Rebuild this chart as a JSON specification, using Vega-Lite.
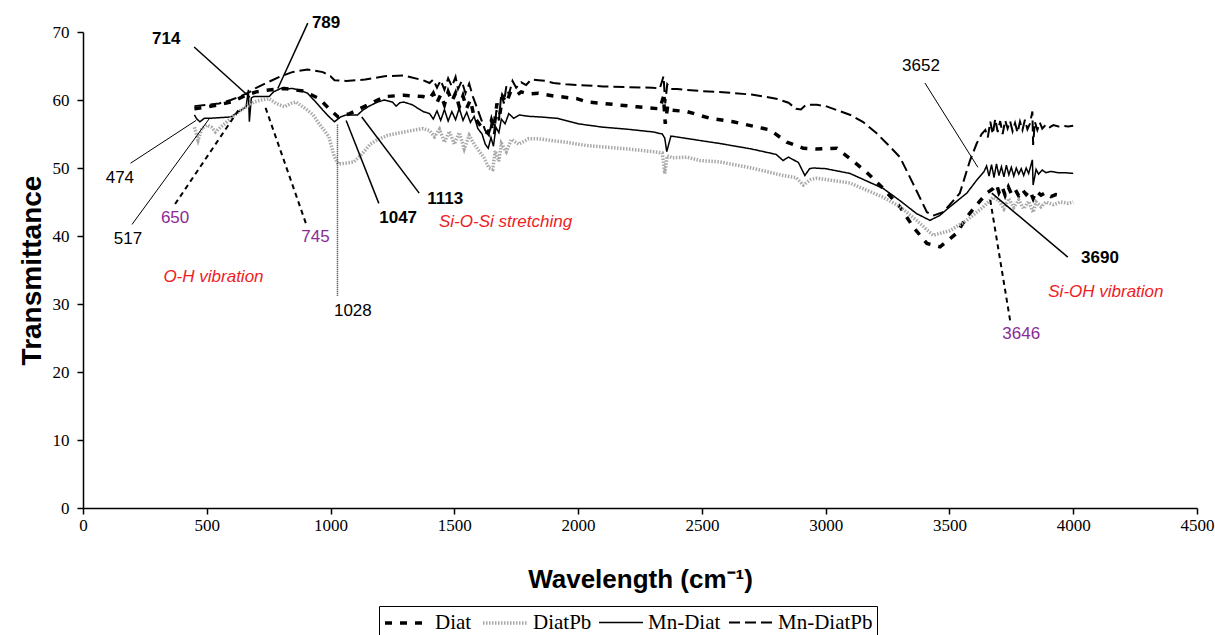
{
  "$schema": "https://vega.github.io/schema/vega-lite/v6.json",
  "width": 1114,
  "height": 476,
  "autosize": {"type": "none"},
  "padding": {"left": 83, "top": 32, "right": 18, "bottom": 127},
  "background": "white",
  "config": {
    "view": {"stroke": null},
    "axis": {
      "grid": false,
      "domainColor": "black",
      "domainWidth": 1.5,
      "tickColor": "black",
      "tickWidth": 1.5,
      "tickSize": 6,
      "labelFont": "Liberation Serif",
      "labelFontSize": 17,
      "labelColor": "black",
      "titleFont": "Liberation Sans",
      "titleFontWeight": "bold",
      "titleColor": "black"
    },
    "legend": {
      "title": null,
      "strokeColor": "black",
      "padding": 4,
      "symbolType": "M-1,0H3",
      "symbolSize": 484,
      "labelFont": "Liberation Serif",
      "labelFontSize": 21,
      "labelColor": "black",
      "columnPadding": 4,
      "labelOffset": 26,
      "symbolOffset": 0
    }
  },
  "datasets": {
    "spectra": [
      {"series": "Mn-DiatPb", "x": 450, "y": 59.1}, {"series": "Mn-DiatPb", "x": 500, "y": 59.3}, {"series": "Mn-DiatPb", "x": 550, "y": 59.5}, {"series": "Mn-DiatPb", "x": 597, "y": 60.0}, {"series": "Mn-DiatPb", "x": 640, "y": 60.6}, {"series": "Mn-DiatPb", "x": 674, "y": 61.2}, {"series": "Mn-DiatPb", "x": 700, "y": 61.8}, {"series": "Mn-DiatPb", "x": 752, "y": 62.7}, {"series": "Mn-DiatPb", "x": 800, "y": 63.5}, {"series": "Mn-DiatPb", "x": 845, "y": 64.1}, {"series": "Mn-DiatPb", "x": 907, "y": 64.5}, {"series": "Mn-DiatPb", "x": 969, "y": 64.1}, {"series": "Mn-DiatPb", "x": 1000, "y": 63.5}, {"series": "Mn-DiatPb", "x": 1016, "y": 62.9}, {"series": "Mn-DiatPb", "x": 1063, "y": 62.8}, {"series": "Mn-DiatPb", "x": 1140, "y": 63.0}, {"series": "Mn-DiatPb", "x": 1218, "y": 63.5}, {"series": "Mn-DiatPb", "x": 1296, "y": 63.6}, {"series": "Mn-DiatPb", "x": 1374, "y": 62.9},
      {"series": "Mn-DiatPb", "x": 1400, "y": 62.5}, {"series": "Mn-DiatPb", "x": 1415, "y": 63.0}, {"series": "Mn-DiatPb", "x": 1430, "y": 61.8}, {"series": "Mn-DiatPb", "x": 1445, "y": 62.9}, {"series": "Mn-DiatPb", "x": 1460, "y": 61.5}, {"series": "Mn-DiatPb", "x": 1475, "y": 63.2}, {"series": "Mn-DiatPb", "x": 1490, "y": 62.0}, {"series": "Mn-DiatPb", "x": 1505, "y": 63.4}, {"series": "Mn-DiatPb", "x": 1515, "y": 61.6}, {"series": "Mn-DiatPb", "x": 1530, "y": 62.8}, {"series": "Mn-DiatPb", "x": 1545, "y": 61.0}, {"series": "Mn-DiatPb", "x": 1560, "y": 62.4}, {"series": "Mn-DiatPb", "x": 1575, "y": 60.5}, {"series": "Mn-DiatPb", "x": 1590, "y": 59.0}, {"series": "Mn-DiatPb", "x": 1610, "y": 57.0}, {"series": "Mn-DiatPb", "x": 1625, "y": 55.5}, {"series": "Mn-DiatPb", "x": 1640, "y": 54.8}, {"series": "Mn-DiatPb", "x": 1650, "y": 56.5}, {"series": "Mn-DiatPb", "x": 1660, "y": 55.0}, {"series": "Mn-DiatPb", "x": 1670, "y": 58.5}, {"series": "Mn-DiatPb", "x": 1680, "y": 57.0}, {"series": "Mn-DiatPb", "x": 1690, "y": 61.0}, {"series": "Mn-DiatPb", "x": 1700, "y": 59.5}, {"series": "Mn-DiatPb", "x": 1710, "y": 62.0}, {"series": "Mn-DiatPb", "x": 1720, "y": 60.8}, {"series": "Mn-DiatPb", "x": 1735, "y": 62.8}, {"series": "Mn-DiatPb", "x": 1750, "y": 61.8}, {"series": "Mn-DiatPb", "x": 1770, "y": 62.6}, {"series": "Mn-DiatPb", "x": 1790, "y": 62.2}, {"series": "Mn-DiatPb", "x": 1810, "y": 63.0}, {"series": "Mn-DiatPb", "x": 1840, "y": 62.9}, {"series": "Mn-DiatPb", "x": 1870, "y": 62.8}, {"series": "Mn-DiatPb", "x": 1900, "y": 62.5}, {"series": "Mn-DiatPb", "x": 1950, "y": 62.3}, {"series": "Mn-DiatPb", "x": 2000, "y": 62.2}, {"series": "Mn-DiatPb", "x": 2100, "y": 62.0}, {"series": "Mn-DiatPb", "x": 2200, "y": 61.9}, {"series": "Mn-DiatPb", "x": 2300, "y": 61.8}, {"series": "Mn-DiatPb", "x": 2330, "y": 61.7}, {"series": "Mn-DiatPb", "x": 2345, "y": 63.5}, {"series": "Mn-DiatPb", "x": 2352, "y": 59.5}, {"series": "Mn-DiatPb", "x": 2360, "y": 62.3}, {"series": "Mn-DiatPb", "x": 2375, "y": 61.6}, {"series": "Mn-DiatPb", "x": 2400, "y": 61.6}, {"series": "Mn-DiatPb", "x": 2500, "y": 61.3}, {"series": "Mn-DiatPb", "x": 2600, "y": 61.1}, {"series": "Mn-DiatPb", "x": 2700, "y": 60.8}, {"series": "Mn-DiatPb", "x": 2800, "y": 60.2}, {"series": "Mn-DiatPb", "x": 2850, "y": 59.6}, {"series": "Mn-DiatPb", "x": 2880, "y": 58.7}, {"series": "Mn-DiatPb", "x": 2900, "y": 58.6}, {"series": "Mn-DiatPb", "x": 2920, "y": 59.3}, {"series": "Mn-DiatPb", "x": 2964, "y": 59.3}, {"series": "Mn-DiatPb", "x": 3000, "y": 59.1}, {"series": "Mn-DiatPb", "x": 3100, "y": 57.8}, {"series": "Mn-DiatPb", "x": 3150, "y": 56.8}, {"series": "Mn-DiatPb", "x": 3206, "y": 55.1}, {"series": "Mn-DiatPb", "x": 3250, "y": 53.5}, {"series": "Mn-DiatPb", "x": 3300, "y": 51.6}, {"series": "Mn-DiatPb", "x": 3353, "y": 47.7}, {"series": "Mn-DiatPb", "x": 3409, "y": 43.5}, {"series": "Mn-DiatPb", "x": 3434, "y": 43.0}, {"series": "Mn-DiatPb", "x": 3474, "y": 43.5}, {"series": "Mn-DiatPb", "x": 3542, "y": 46.3}, {"series": "Mn-DiatPb", "x": 3583, "y": 51.1}, {"series": "Mn-DiatPb", "x": 3610, "y": 53.6}, {"series": "Mn-DiatPb", "x": 3630, "y": 55.0}, {"series": "Mn-DiatPb", "x": 3645, "y": 55.6}, {"series": "Mn-DiatPb", "x": 3655, "y": 54.5}, {"series": "Mn-DiatPb", "x": 3665, "y": 56.8}, {"series": "Mn-DiatPb", "x": 3675, "y": 55.0}, {"series": "Mn-DiatPb", "x": 3685, "y": 57.2}, {"series": "Mn-DiatPb", "x": 3695, "y": 55.3}, {"series": "Mn-DiatPb", "x": 3705, "y": 56.9}, {"series": "Mn-DiatPb", "x": 3715, "y": 55.0}, {"series": "Mn-DiatPb", "x": 3725, "y": 57.0}, {"series": "Mn-DiatPb", "x": 3735, "y": 55.8}, {"series": "Mn-DiatPb", "x": 3745, "y": 56.9}, {"series": "Mn-DiatPb", "x": 3755, "y": 55.4}, {"series": "Mn-DiatPb", "x": 3765, "y": 56.6}, {"series": "Mn-DiatPb", "x": 3775, "y": 55.2}, {"series": "Mn-DiatPb", "x": 3785, "y": 56.8}, {"series": "Mn-DiatPb", "x": 3795, "y": 55.6}, {"series": "Mn-DiatPb", "x": 3805, "y": 57.1}, {"series": "Mn-DiatPb", "x": 3815, "y": 55.7}, {"series": "Mn-DiatPb", "x": 3825, "y": 56.5}, {"series": "Mn-DiatPb", "x": 3835, "y": 58.3}, {"series": "Mn-DiatPb", "x": 3838, "y": 53.4}, {"series": "Mn-DiatPb", "x": 3845, "y": 56.8}, {"series": "Mn-DiatPb", "x": 3855, "y": 55.6}, {"series": "Mn-DiatPb", "x": 3865, "y": 56.7}, {"series": "Mn-DiatPb", "x": 3875, "y": 55.8}, {"series": "Mn-DiatPb", "x": 3890, "y": 56.4}, {"series": "Mn-DiatPb", "x": 3905, "y": 56.0}, {"series": "Mn-DiatPb", "x": 3920, "y": 56.3}, {"series": "Mn-DiatPb", "x": 3940, "y": 56.1}, {"series": "Mn-DiatPb", "x": 3960, "y": 56.2}, {"series": "Mn-DiatPb", "x": 3980, "y": 56.1}, {"series": "Mn-DiatPb", "x": 4000, "y": 56.2},

      {"series": "Diat", "x": 450, "y": 58.7}, {"series": "Diat", "x": 504, "y": 59.0}, {"series": "Diat", "x": 550, "y": 59.3}, {"series": "Diat", "x": 597, "y": 59.7}, {"series": "Diat", "x": 659, "y": 60.7}, {"series": "Diat", "x": 700, "y": 61.2}, {"series": "Diat", "x": 737, "y": 61.4}, {"series": "Diat", "x": 814, "y": 61.7}, {"series": "Diat", "x": 892, "y": 61.3}, {"series": "Diat", "x": 954, "y": 60.2}, {"series": "Diat", "x": 1000, "y": 58.5}, {"series": "Diat", "x": 1031, "y": 57.5}, {"series": "Diat", "x": 1078, "y": 58.0}, {"series": "Diat", "x": 1140, "y": 59.1}, {"series": "Diat", "x": 1218, "y": 60.5}, {"series": "Diat", "x": 1296, "y": 60.7}, {"series": "Diat", "x": 1374, "y": 60.5},
      {"series": "Diat", "x": 1400, "y": 60.2}, {"series": "Diat", "x": 1415, "y": 61.0}, {"series": "Diat", "x": 1430, "y": 59.6}, {"series": "Diat", "x": 1445, "y": 60.8}, {"series": "Diat", "x": 1460, "y": 59.3}, {"series": "Diat", "x": 1475, "y": 61.2}, {"series": "Diat", "x": 1490, "y": 59.8}, {"series": "Diat", "x": 1505, "y": 61.0}, {"series": "Diat", "x": 1520, "y": 59.0}, {"series": "Diat", "x": 1535, "y": 60.6}, {"series": "Diat", "x": 1550, "y": 58.8}, {"series": "Diat", "x": 1565, "y": 60.0}, {"series": "Diat", "x": 1580, "y": 57.5}, {"series": "Diat", "x": 1600, "y": 56.5}, {"series": "Diat", "x": 1620, "y": 55.5}, {"series": "Diat", "x": 1637, "y": 55.1}, {"series": "Diat", "x": 1650, "y": 57.0}, {"series": "Diat", "x": 1660, "y": 55.8}, {"series": "Diat", "x": 1672, "y": 59.5}, {"series": "Diat", "x": 1684, "y": 58.0}, {"series": "Diat", "x": 1695, "y": 60.5}, {"series": "Diat", "x": 1710, "y": 59.6}, {"series": "Diat", "x": 1725, "y": 61.0}, {"series": "Diat", "x": 1745, "y": 60.5}, {"series": "Diat", "x": 1770, "y": 61.2}, {"series": "Diat", "x": 1800, "y": 60.9}, {"series": "Diat", "x": 1840, "y": 61.0}, {"series": "Diat", "x": 1900, "y": 60.6}, {"series": "Diat", "x": 1995, "y": 60.2}, {"series": "Diat", "x": 2035, "y": 59.7}, {"series": "Diat", "x": 2101, "y": 59.5}, {"series": "Diat", "x": 2238, "y": 59.0}, {"series": "Diat", "x": 2330, "y": 58.7}, {"series": "Diat", "x": 2345, "y": 60.5}, {"series": "Diat", "x": 2352, "y": 56.5}, {"series": "Diat", "x": 2362, "y": 59.2}, {"series": "Diat", "x": 2380, "y": 58.5}, {"series": "Diat", "x": 2440, "y": 58.3}, {"series": "Diat", "x": 2533, "y": 57.3}, {"series": "Diat", "x": 2626, "y": 56.8}, {"series": "Diat", "x": 2775, "y": 55.6}, {"series": "Diat", "x": 2843, "y": 53.8}, {"series": "Diat", "x": 2910, "y": 52.9}, {"series": "Diat", "x": 2960, "y": 52.8}, {"series": "Diat", "x": 3045, "y": 52.9}, {"series": "Diat", "x": 3098, "y": 51.4}, {"series": "Diat", "x": 3165, "y": 49.4}, {"series": "Diat", "x": 3232, "y": 47.0}, {"series": "Diat", "x": 3300, "y": 44.3}, {"series": "Diat", "x": 3354, "y": 41.3}, {"series": "Diat", "x": 3409, "y": 38.9}, {"series": "Diat", "x": 3462, "y": 38.4}, {"series": "Diat", "x": 3529, "y": 40.4}, {"series": "Diat", "x": 3570, "y": 42.8}, {"series": "Diat", "x": 3620, "y": 45.0}, {"series": "Diat", "x": 3651, "y": 46.3}, {"series": "Diat", "x": 3677, "y": 47.0}, {"series": "Diat", "x": 3690, "y": 47.6}, {"series": "Diat", "x": 3700, "y": 46.4}, {"series": "Diat", "x": 3712, "y": 47.3}, {"series": "Diat", "x": 3725, "y": 46.0}, {"series": "Diat", "x": 3738, "y": 47.2}, {"series": "Diat", "x": 3750, "y": 46.2}, {"series": "Diat", "x": 3765, "y": 46.9}, {"series": "Diat", "x": 3780, "y": 45.9}, {"series": "Diat", "x": 3795, "y": 46.8}, {"series": "Diat", "x": 3810, "y": 46.1}, {"series": "Diat", "x": 3825, "y": 46.7}, {"series": "Diat", "x": 3838, "y": 45.5}, {"series": "Diat", "x": 3850, "y": 46.6}, {"series": "Diat", "x": 3870, "y": 46.0}, {"series": "Diat", "x": 3890, "y": 46.4}, {"series": "Diat", "x": 3910, "y": 45.8}, {"series": "Diat", "x": 3930, "y": 46.1}, {"series": "Diat", "x": 3955, "y": 46.0},

      {"series": "Mn-Diat", "x": 450, "y": 57.8}, {"series": "Mn-Diat", "x": 460, "y": 57.2}, {"series": "Mn-Diat", "x": 472, "y": 56.8}, {"series": "Mn-Diat", "x": 490, "y": 57.3}, {"series": "Mn-Diat", "x": 511, "y": 57.3}, {"series": "Mn-Diat", "x": 550, "y": 57.4}, {"series": "Mn-Diat", "x": 597, "y": 57.5}, {"series": "Mn-Diat", "x": 630, "y": 58.3}, {"series": "Mn-Diat", "x": 659, "y": 59.0}, {"series": "Mn-Diat", "x": 668, "y": 61.5}, {"series": "Mn-Diat", "x": 672, "y": 56.8}, {"series": "Mn-Diat", "x": 680, "y": 60.3}, {"series": "Mn-Diat", "x": 690, "y": 60.5}, {"series": "Mn-Diat", "x": 720, "y": 60.5}, {"series": "Mn-Diat", "x": 752, "y": 60.5}, {"series": "Mn-Diat", "x": 770, "y": 61.2}, {"series": "Mn-Diat", "x": 799, "y": 61.7}, {"series": "Mn-Diat", "x": 820, "y": 61.6}, {"series": "Mn-Diat", "x": 845, "y": 61.7}, {"series": "Mn-Diat", "x": 880, "y": 61.4}, {"series": "Mn-Diat", "x": 907, "y": 61.0}, {"series": "Mn-Diat", "x": 940, "y": 59.7}, {"series": "Mn-Diat", "x": 969, "y": 58.5}, {"series": "Mn-Diat", "x": 995, "y": 57.5}, {"series": "Mn-Diat", "x": 1016, "y": 56.8}, {"series": "Mn-Diat", "x": 1040, "y": 57.5}, {"series": "Mn-Diat", "x": 1063, "y": 57.8}, {"series": "Mn-Diat", "x": 1090, "y": 57.8}, {"series": "Mn-Diat", "x": 1109, "y": 57.8}, {"series": "Mn-Diat", "x": 1130, "y": 58.5}, {"series": "Mn-Diat", "x": 1156, "y": 59.1}, {"series": "Mn-Diat", "x": 1190, "y": 59.7}, {"series": "Mn-Diat", "x": 1218, "y": 60.0}, {"series": "Mn-Diat", "x": 1250, "y": 59.7}, {"series": "Mn-Diat", "x": 1265, "y": 59.1}, {"series": "Mn-Diat", "x": 1280, "y": 59.6}, {"series": "Mn-Diat", "x": 1296, "y": 59.7}, {"series": "Mn-Diat", "x": 1330, "y": 59.3}, {"series": "Mn-Diat", "x": 1374, "y": 58.3},
      {"series": "Mn-Diat", "x": 1400, "y": 58.0}, {"series": "Mn-Diat", "x": 1415, "y": 57.2}, {"series": "Mn-Diat", "x": 1430, "y": 58.4}, {"series": "Mn-Diat", "x": 1445, "y": 57.0}, {"series": "Mn-Diat", "x": 1460, "y": 58.6}, {"series": "Mn-Diat", "x": 1475, "y": 56.9}, {"series": "Mn-Diat", "x": 1490, "y": 58.3}, {"series": "Mn-Diat", "x": 1505, "y": 57.1}, {"series": "Mn-Diat", "x": 1520, "y": 58.8}, {"series": "Mn-Diat", "x": 1535, "y": 57.0}, {"series": "Mn-Diat", "x": 1550, "y": 58.2}, {"series": "Mn-Diat", "x": 1565, "y": 56.7}, {"series": "Mn-Diat", "x": 1580, "y": 57.6}, {"series": "Mn-Diat", "x": 1595, "y": 55.8}, {"series": "Mn-Diat", "x": 1612, "y": 55.0}, {"series": "Mn-Diat", "x": 1625, "y": 53.5}, {"series": "Mn-Diat", "x": 1637, "y": 52.9}, {"series": "Mn-Diat", "x": 1648, "y": 54.5}, {"series": "Mn-Diat", "x": 1658, "y": 53.2}, {"series": "Mn-Diat", "x": 1668, "y": 56.0}, {"series": "Mn-Diat", "x": 1680, "y": 55.2}, {"series": "Mn-Diat", "x": 1690, "y": 57.2}, {"series": "Mn-Diat", "x": 1705, "y": 56.5}, {"series": "Mn-Diat", "x": 1720, "y": 58.0}, {"series": "Mn-Diat", "x": 1740, "y": 57.3}, {"series": "Mn-Diat", "x": 1762, "y": 57.8}, {"series": "Mn-Diat", "x": 1800, "y": 57.6}, {"series": "Mn-Diat", "x": 1850, "y": 57.5}, {"series": "Mn-Diat", "x": 1917, "y": 57.3}, {"series": "Mn-Diat", "x": 2000, "y": 56.5}, {"series": "Mn-Diat", "x": 2101, "y": 56.0}, {"series": "Mn-Diat", "x": 2200, "y": 55.7}, {"series": "Mn-Diat", "x": 2303, "y": 55.3}, {"series": "Mn-Diat", "x": 2340, "y": 55.0}, {"series": "Mn-Diat", "x": 2350, "y": 54.4}, {"series": "Mn-Diat", "x": 2358, "y": 52.4}, {"series": "Mn-Diat", "x": 2366, "y": 53.5}, {"series": "Mn-Diat", "x": 2375, "y": 54.7}, {"series": "Mn-Diat", "x": 2411, "y": 54.5}, {"series": "Mn-Diat", "x": 2500, "y": 54.0}, {"series": "Mn-Diat", "x": 2573, "y": 53.6}, {"series": "Mn-Diat", "x": 2700, "y": 52.8}, {"series": "Mn-Diat", "x": 2800, "y": 52.0}, {"series": "Mn-Diat", "x": 2828, "y": 51.1}, {"series": "Mn-Diat", "x": 2850, "y": 51.6}, {"series": "Mn-Diat", "x": 2890, "y": 50.8}, {"series": "Mn-Diat", "x": 2916, "y": 48.9}, {"series": "Mn-Diat", "x": 2935, "y": 49.9}, {"series": "Mn-Diat", "x": 2950, "y": 50.0}, {"series": "Mn-Diat", "x": 3000, "y": 49.9}, {"series": "Mn-Diat", "x": 3098, "y": 49.2}, {"series": "Mn-Diat", "x": 3232, "y": 47.0}, {"series": "Mn-Diat", "x": 3300, "y": 45.2}, {"series": "Mn-Diat", "x": 3367, "y": 43.3}, {"series": "Mn-Diat", "x": 3421, "y": 42.3}, {"series": "Mn-Diat", "x": 3460, "y": 43.0}, {"series": "Mn-Diat", "x": 3502, "y": 44.3}, {"series": "Mn-Diat", "x": 3570, "y": 46.3}, {"series": "Mn-Diat", "x": 3610, "y": 48.2}, {"series": "Mn-Diat", "x": 3640, "y": 49.5}, {"series": "Mn-Diat", "x": 3650, "y": 50.3}, {"series": "Mn-Diat", "x": 3660, "y": 48.8}, {"series": "Mn-Diat", "x": 3670, "y": 50.5}, {"series": "Mn-Diat", "x": 3680, "y": 48.6}, {"series": "Mn-Diat", "x": 3690, "y": 50.6}, {"series": "Mn-Diat", "x": 3700, "y": 48.9}, {"series": "Mn-Diat", "x": 3710, "y": 50.2}, {"series": "Mn-Diat", "x": 3720, "y": 48.7}, {"series": "Mn-Diat", "x": 3730, "y": 50.4}, {"series": "Mn-Diat", "x": 3740, "y": 49.0}, {"series": "Mn-Diat", "x": 3750, "y": 50.1}, {"series": "Mn-Diat", "x": 3760, "y": 48.8}, {"series": "Mn-Diat", "x": 3770, "y": 50.0}, {"series": "Mn-Diat", "x": 3780, "y": 49.1}, {"series": "Mn-Diat", "x": 3790, "y": 49.9}, {"series": "Mn-Diat", "x": 3800, "y": 48.9}, {"series": "Mn-Diat", "x": 3810, "y": 50.0}, {"series": "Mn-Diat", "x": 3820, "y": 49.2}, {"series": "Mn-Diat", "x": 3835, "y": 51.2}, {"series": "Mn-Diat", "x": 3838, "y": 47.5}, {"series": "Mn-Diat", "x": 3850, "y": 49.8}, {"series": "Mn-Diat", "x": 3860, "y": 49.1}, {"series": "Mn-Diat", "x": 3875, "y": 49.7}, {"series": "Mn-Diat", "x": 3890, "y": 49.3}, {"series": "Mn-Diat", "x": 3910, "y": 49.5}, {"series": "Mn-Diat", "x": 3940, "y": 49.3}, {"series": "Mn-Diat", "x": 3970, "y": 49.3}, {"series": "Mn-Diat", "x": 4000, "y": 49.2},

      {"series": "DiatPb", "x": 450, "y": 56.0}, {"series": "DiatPb", "x": 465, "y": 54.1}, {"series": "DiatPb", "x": 480, "y": 55.8}, {"series": "DiatPb", "x": 500, "y": 56.3}, {"series": "DiatPb", "x": 519, "y": 56.0}, {"series": "DiatPb", "x": 535, "y": 55.3}, {"series": "DiatPb", "x": 550, "y": 55.8}, {"series": "DiatPb", "x": 597, "y": 57.3}, {"series": "DiatPb", "x": 630, "y": 58.3}, {"series": "DiatPb", "x": 659, "y": 59.0}, {"series": "DiatPb", "x": 690, "y": 59.7}, {"series": "DiatPb", "x": 721, "y": 60.0}, {"series": "DiatPb", "x": 752, "y": 60.2}, {"series": "DiatPb", "x": 780, "y": 59.5}, {"series": "DiatPb", "x": 814, "y": 59.0}, {"series": "DiatPb", "x": 840, "y": 59.5}, {"series": "DiatPb", "x": 861, "y": 59.7}, {"series": "DiatPb", "x": 880, "y": 59.2}, {"series": "DiatPb", "x": 907, "y": 58.5}, {"series": "DiatPb", "x": 930, "y": 57.8}, {"series": "DiatPb", "x": 954, "y": 56.5}, {"series": "DiatPb", "x": 975, "y": 55.5}, {"series": "DiatPb", "x": 993, "y": 54.6}, {"series": "DiatPb", "x": 1005, "y": 53.0}, {"series": "DiatPb", "x": 1016, "y": 51.6}, {"series": "DiatPb", "x": 1031, "y": 50.6}, {"series": "DiatPb", "x": 1060, "y": 50.7}, {"series": "DiatPb", "x": 1094, "y": 50.9}, {"series": "DiatPb", "x": 1120, "y": 51.8}, {"series": "DiatPb", "x": 1140, "y": 52.6}, {"series": "DiatPb", "x": 1160, "y": 53.5}, {"series": "DiatPb", "x": 1187, "y": 54.1}, {"series": "DiatPb", "x": 1230, "y": 54.8}, {"series": "DiatPb", "x": 1296, "y": 55.3}, {"series": "DiatPb", "x": 1374, "y": 55.8},
      {"series": "DiatPb", "x": 1400, "y": 55.5}, {"series": "DiatPb", "x": 1420, "y": 54.6}, {"series": "DiatPb", "x": 1440, "y": 55.7}, {"series": "DiatPb", "x": 1460, "y": 53.8}, {"series": "DiatPb", "x": 1480, "y": 55.4}, {"series": "DiatPb", "x": 1500, "y": 53.5}, {"series": "DiatPb", "x": 1520, "y": 55.2}, {"series": "DiatPb", "x": 1540, "y": 52.8}, {"series": "DiatPb", "x": 1560, "y": 54.8}, {"series": "DiatPb", "x": 1580, "y": 53.5}, {"series": "DiatPb", "x": 1600, "y": 52.5}, {"series": "DiatPb", "x": 1620, "y": 51.5}, {"series": "DiatPb", "x": 1640, "y": 50.0}, {"series": "DiatPb", "x": 1655, "y": 49.8}, {"series": "DiatPb", "x": 1665, "y": 52.5}, {"series": "DiatPb", "x": 1680, "y": 51.0}, {"series": "DiatPb", "x": 1690, "y": 53.6}, {"series": "DiatPb", "x": 1710, "y": 52.4}, {"series": "DiatPb", "x": 1730, "y": 54.2}, {"series": "DiatPb", "x": 1760, "y": 53.5}, {"series": "DiatPb", "x": 1800, "y": 54.3}, {"series": "DiatPb", "x": 1840, "y": 54.3}, {"series": "DiatPb", "x": 1900, "y": 54.0}, {"series": "DiatPb", "x": 1950, "y": 53.8}, {"series": "DiatPb", "x": 2035, "y": 53.3}, {"series": "DiatPb", "x": 2101, "y": 53.1}, {"series": "DiatPb", "x": 2200, "y": 52.8}, {"series": "DiatPb", "x": 2303, "y": 52.4}, {"series": "DiatPb", "x": 2340, "y": 52.2}, {"series": "DiatPb", "x": 2350, "y": 49.2}, {"series": "DiatPb", "x": 2360, "y": 51.8}, {"series": "DiatPb", "x": 2380, "y": 51.5}, {"series": "DiatPb", "x": 2440, "y": 51.6}, {"series": "DiatPb", "x": 2492, "y": 51.1}, {"series": "DiatPb", "x": 2573, "y": 50.9}, {"series": "DiatPb", "x": 2700, "y": 50.0}, {"series": "DiatPb", "x": 2828, "y": 48.9}, {"series": "DiatPb", "x": 2880, "y": 48.6}, {"series": "DiatPb", "x": 2910, "y": 47.5}, {"series": "DiatPb", "x": 2940, "y": 48.3}, {"series": "DiatPb", "x": 2964, "y": 48.5}, {"series": "DiatPb", "x": 3098, "y": 47.8}, {"series": "DiatPb", "x": 3232, "y": 45.7}, {"series": "DiatPb", "x": 3300, "y": 44.3}, {"series": "DiatPb", "x": 3367, "y": 42.3}, {"series": "DiatPb", "x": 3434, "y": 40.1}, {"series": "DiatPb", "x": 3502, "y": 40.8}, {"series": "DiatPb", "x": 3570, "y": 42.3}, {"series": "DiatPb", "x": 3637, "y": 44.3}, {"series": "DiatPb", "x": 3677, "y": 45.7}, {"series": "DiatPb", "x": 3700, "y": 45.2}, {"series": "DiatPb", "x": 3720, "y": 44.0}, {"series": "DiatPb", "x": 3740, "y": 45.5}, {"series": "DiatPb", "x": 3760, "y": 44.2}, {"series": "DiatPb", "x": 3780, "y": 45.3}, {"series": "DiatPb", "x": 3800, "y": 44.0}, {"series": "DiatPb", "x": 3820, "y": 45.1}, {"series": "DiatPb", "x": 3838, "y": 43.5}, {"series": "DiatPb", "x": 3850, "y": 45.0}, {"series": "DiatPb", "x": 3870, "y": 44.3}, {"series": "DiatPb", "x": 3890, "y": 45.0}, {"series": "DiatPb", "x": 3920, "y": 44.6}, {"series": "DiatPb", "x": 3950, "y": 45.0}, {"series": "DiatPb", "x": 3980, "y": 44.8}, {"series": "DiatPb", "x": 4000, "y": 45.0}
    ],
    "leadersSolid": [
      {"xa": 449, "ya": 67.8, "xb": 674, "yb": 60.4},
      {"xa": 908, "ya": 71.3, "xb": 787, "yb": 61.7},
      {"xa": 1195, "ya": 44.8, "xb": 1063, "yb": 57.0},
      {"xa": 1358, "ya": 46.3, "xb": 1126, "yb": 57.5},
      {"xa": 3978, "ya": 36.9, "xb": 3671, "yb": 46.3}
    ],
    "leadersThin": [
      {"xa": 192, "ya": 50.7, "xb": 457, "yb": 57.0},
      {"xa": 198, "ya": 41.7, "xb": 511, "yb": 57.3},
      {"xa": 3401, "ya": 62.5, "xb": 3615, "yb": 50.1}
    ],
    "leadersDashed": [
      {"xa": 372, "ya": 44.7, "xb": 628, "yb": 58.5},
      {"xa": 900, "ya": 41.9, "xb": 737, "yb": 58.9},
      {"xa": 3745, "ya": 27.6, "xb": 3663, "yb": 45.7}
    ],
    "leadersDotted": [
      {"xa": 1028, "ya": 31.2, "xb": 1028, "yb": 56.5}
    ],
    "labelsBold": [
      {"x": 336, "y": 69.0, "text": "714"},
      {"x": 982, "y": 71.3, "text": "789"},
      {"x": 1273, "y": 42.6, "text": "1047"},
      {"x": 1463, "y": 45.4, "text": "1113"},
      {"x": 4108, "y": 36.7, "text": "3690"}
    ],
    "labelsPlain": [
      {"x": 149, "y": 48.6, "text": "474"},
      {"x": 182, "y": 39.6, "text": "517"},
      {"x": 1090, "y": 28.9, "text": "1028"},
      {"x": 3385, "y": 65.0, "text": "3652"}
    ],
    "labelsPurple": [
      {"x": 372, "y": 42.7, "text": "650"},
      {"x": 939, "y": 39.8, "text": "745"},
      {"x": 3790, "y": 25.6, "text": "3646"}
    ],
    "labelsRed": [
      {"x": 527, "y": 33.9, "text": "O-H vibration"},
      {"x": 1707, "y": 42.0, "text": "Si-O-Si stretching"},
      {"x": 4132, "y": 31.8, "text": "Si-OH vibration"}
    ]
  },
  "layer": [
    {
      "data": {"name": "spectra"},
      "mark": {"type": "line", "strokeJoin": "miter", "strokeCap": "butt"},
      "encoding": {
        "x": {
          "field": "x", "type": "quantitative",
          "scale": {"domain": [0, 4500], "nice": false},
          "axis": {"values": [0, 500, 1000, 1500, 2000, 2500, 3000, 3500, 4000, 4500], "format": "d", "labelPadding": 3, "labelFlush": false, "title": "Wavelength (cm⁻¹)", "titleFontSize": 26, "titleY": 58}
        },
        "y": {
          "field": "y", "type": "quantitative",
          "scale": {"domain": [0, 70], "nice": false},
          "axis": {"values": [0, 10, 20, 30, 40, 50, 60, 70], "labelPadding": 8, "title": "Transmittance", "titleFontSize": 28, "titleX": -43, "titleBaseline": "alphabetic"}
        },
        "color": {
          "field": "series", "type": "nominal",
          "scale": {"domain": ["Diat", "DiatPb", "Mn-Diat", "Mn-DiatPb"], "range": ["#000000", "#a8a8a8", "#000000", "#000000"]},
          "legend": {"orient": "none", "legendX": 296, "legendY": 574, "direction": "horizontal"}
        },
        "strokeDash": {
          "field": "series", "type": "nominal",
          "scale": {"domain": ["Diat", "DiatPb", "Mn-Diat", "Mn-DiatPb"], "range": [[7, 8], [1.5, 1.5], [1, 0], [11, 5]]},
          "legend": {"orient": "none", "legendX": 296, "legendY": 574, "direction": "horizontal"}
        },
        "strokeWidth": {
          "field": "series", "type": "nominal",
          "scale": {"type": "ordinal", "domain": ["Diat", "DiatPb", "Mn-Diat", "Mn-DiatPb"], "range": [3.5, 3.5, 1.5, 2]},
          "legend": {"orient": "none", "legendX": 296, "legendY": 574, "direction": "horizontal"}
        }
      }
    },
    {
      "data": {"name": "leadersSolid"},
      "mark": {"type": "rule", "color": "black", "strokeWidth": 1.5},
      "encoding": {"x": {"field": "xa", "type": "quantitative"}, "y": {"field": "ya", "type": "quantitative"}, "x2": {"field": "xb"}, "y2": {"field": "yb"}}
    },
    {
      "data": {"name": "leadersThin"},
      "mark": {"type": "rule", "color": "black", "strokeWidth": 1},
      "encoding": {"x": {"field": "xa", "type": "quantitative"}, "y": {"field": "ya", "type": "quantitative"}, "x2": {"field": "xb"}, "y2": {"field": "yb"}}
    },
    {
      "data": {"name": "leadersDashed"},
      "mark": {"type": "rule", "color": "black", "strokeWidth": 2, "strokeDash": [5, 4]},
      "encoding": {"x": {"field": "xa", "type": "quantitative"}, "y": {"field": "ya", "type": "quantitative"}, "x2": {"field": "xb"}, "y2": {"field": "yb"}}
    },
    {
      "data": {"name": "leadersDotted"},
      "mark": {"type": "rule", "color": "#333333", "strokeWidth": 1.5, "strokeDash": [1, 1]},
      "encoding": {"x": {"field": "xa", "type": "quantitative"}, "y": {"field": "ya", "type": "quantitative"}, "x2": {"field": "xb"}, "y2": {"field": "yb"}}
    },
    {
      "data": {"name": "labelsBold"},
      "mark": {"type": "text", "font": "Liberation Sans", "fontSize": 17, "fontWeight": "bold", "color": "black", "align": "center", "baseline": "middle"},
      "encoding": {"x": {"field": "x", "type": "quantitative"}, "y": {"field": "y", "type": "quantitative"}, "text": {"field": "text"}}
    },
    {
      "data": {"name": "labelsPlain"},
      "mark": {"type": "text", "font": "Liberation Sans", "fontSize": 17, "color": "black", "align": "center", "baseline": "middle"},
      "encoding": {"x": {"field": "x", "type": "quantitative"}, "y": {"field": "y", "type": "quantitative"}, "text": {"field": "text"}}
    },
    {
      "data": {"name": "labelsPurple"},
      "mark": {"type": "text", "font": "Liberation Sans", "fontSize": 17, "color": "#8a2b96", "align": "center", "baseline": "middle"},
      "encoding": {"x": {"field": "x", "type": "quantitative"}, "y": {"field": "y", "type": "quantitative"}, "text": {"field": "text"}}
    },
    {
      "data": {"name": "labelsRed"},
      "mark": {"type": "text", "font": "Liberation Sans", "fontSize": 17, "fontStyle": "italic", "color": "#ee1c24", "align": "center", "baseline": "middle"},
      "encoding": {"x": {"field": "x", "type": "quantitative"}, "y": {"field": "y", "type": "quantitative"}, "text": {"field": "text"}}
    }
  ]
}
